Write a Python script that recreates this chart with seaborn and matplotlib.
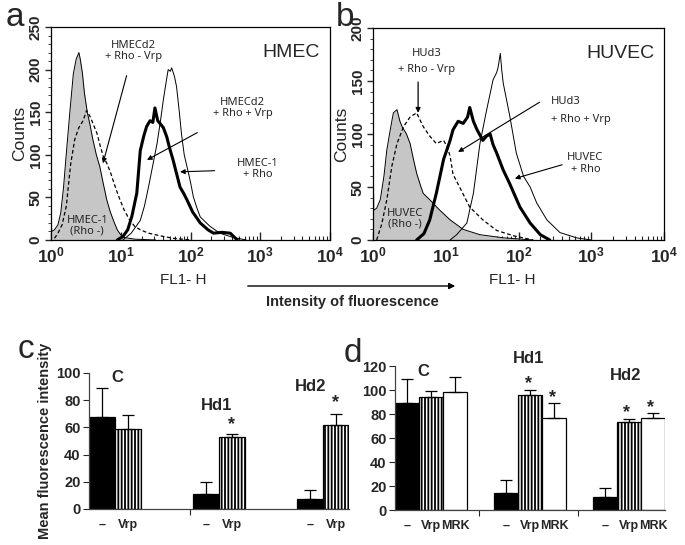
import numpy as np
import pandas as pd
import matplotlib
matplotlib.use('Agg')
import matplotlib.pyplot as plt
from matplotlib.ticker import MultipleLocator, LogLocator, NullFormatter
import seaborn as sns

sns.set_theme(style='white')
plt.rcParams['font.family'] = ['Liberation Sans', 'DejaVu Sans']
plt.rcParams['hatch.linewidth'] = 1.3

# ---- flow cytometry histograms (x in decades, log10 of FL1-H) ----
# panel a : HMEC
a_neg_x = [0.00, 0.01, 0.05, 0.10, 0.14, 0.18, 0.22, 0.27, 0.32, 0.36, 0.40, 0.42, 0.45, 0.48, 0.52,
           0.56, 0.60, 0.65, 0.70, 0.75, 0.80, 0.85, 0.90, 0.95, 1.00, 1.05, 1.20, 1.50]
a_neg_y = [35, 10, 12, 18, 32, 62, 102, 150, 195, 212, 220, 212, 196, 172, 150,
           135, 118, 100, 86, 66, 47, 33, 22, 12, 6, 3, 1, 0]
a_vrpneg_x = [0.05, 0.10, 0.16, 0.22, 0.28, 0.34, 0.40, 0.46, 0.51, 0.56, 0.61, 0.66, 0.70, 0.75,
              0.80, 0.85, 0.89, 0.94, 0.99, 1.05, 1.13, 1.20, 1.28, 1.40, 1.56, 1.75, 2.00]
a_vrpneg_y = [2, 8, 18, 40, 88, 118, 132, 140, 152, 145, 135, 125, 112, 98,
              90, 80, 70, 58, 47, 35, 23, 16, 12, 8, 5, 2, 0]
a_vrppos_x = [0.95, 1.03, 1.10, 1.16, 1.23, 1.28, 1.33, 1.37, 1.42, 1.46, 1.49, 1.53, 1.56, 1.61,
              1.66, 1.70, 1.75, 1.80, 1.85, 1.90, 1.95, 2.03, 2.14, 2.25, 2.33, 2.45, 2.57, 2.67]
a_vrppos_y = [0, 4, 12, 28, 55, 105, 122, 133, 140, 138, 155, 140, 137, 132,
              121, 108, 94, 78, 62, 55, 47, 33, 20, 12, 8, 9, 8, 0]
a_rho_x = [1.03, 1.15, 1.28, 1.34, 1.40, 1.46, 1.52, 1.57, 1.61, 1.65, 1.68, 1.71, 1.73, 1.77,
           1.80, 1.84, 1.87, 1.91, 1.95, 2.00, 2.04, 2.09, 2.14, 2.28, 2.42, 2.61, 2.80]
a_rho_y = [0, 8, 23, 40, 63, 88, 113, 140, 164, 185, 200, 198, 202, 192,
           180, 150, 125, 100, 86, 68, 51, 38, 27, 16, 8, 3, 0]

# panel b : HUVEC
b_neg_x = [0.00, 0.01, 0.05, 0.10, 0.15, 0.19, 0.24, 0.28, 0.33, 0.37, 0.40, 0.46, 0.51, 0.55,
           0.60, 0.65, 0.69, 0.78, 0.85, 0.92, 1.06, 1.24, 1.47, 1.80, 2.20]
b_neg_y = [105, 28, 30, 38, 60, 85, 105, 120, 123, 112, 107, 100, 91, 78,
           63, 52, 44, 38, 33, 28, 19, 10, 5, 2, 0]
b_vrpneg_x = [0.05, 0.12, 0.19, 0.26, 0.33, 0.42, 0.51, 0.60, 0.69, 0.78, 0.87, 0.97, 1.02,
              1.06, 1.10, 1.19, 1.33, 1.51, 1.70, 1.93, 2.20]
b_vrpneg_y = [0, 15, 38, 70, 91, 107, 116, 120, 107, 98, 91, 94, 88,
              79, 62, 50, 31, 19, 9, 4, 0]
b_vrppos_x = [0.60, 0.70, 0.78, 0.87, 0.97, 1.06, 1.10, 1.17, 1.24, 1.30, 1.33, 1.38, 1.43,
              1.51, 1.56, 1.61, 1.65, 1.70, 1.79, 1.88, 1.95, 2.02, 2.16, 2.30, 2.43]
b_vrppos_y = [0, 6, 19, 44, 76, 94, 104, 112, 110, 116, 125, 112, 104,
              94, 98, 100, 90, 82, 66, 53, 42, 31, 16, 5, 0]
b_rho_x = [1.06, 1.15, 1.29, 1.38, 1.47, 1.56, 1.65, 1.70, 1.72, 1.75, 1.77, 1.79, 1.88,
           1.97, 2.07, 2.16, 2.25, 2.39, 2.57, 2.80, 3.00]
b_rho_y = [0, 5, 16, 44, 91, 122, 151, 158, 163, 176, 160, 148, 117,
           82, 60, 50, 35, 19, 7, 2, 0]

# ---- mean fluorescence bars ----
c_groups = ['C', 'C', 'Hd1', 'Hd1', 'Hd2', 'Hd2']
c_treat = ['-', 'Vrp', '-', 'Vrp', '-', 'Vrp']
c_mean = [68, 59, 11, 53, 7, 62]
c_err = [21, 10, 9, 2, 7, 8]

d_groups = ['C', 'C', 'C', 'Hd1', 'Hd1', 'Hd1', 'Hd2', 'Hd2', 'Hd2']
d_treat = ['-', 'Vrp', 'MRK', '-', 'Vrp', 'MRK', '-', 'Vrp', 'MRK']
d_mean = [89, 94, 98, 14, 96, 77, 11, 73, 77]
d_err = [20, 5, 13, 11, 4, 12, 7, 3, 4]

W, H = 685, 545
fig = plt.figure(figsize=(W / 100, H / 100), dpi=100)


def rect(l, r, t, b):
    return [l / W, 1 - b / H, (r - l) / W, (b - t) / H]


GRAY = '#c6c6c6'
annot_font = dict(family=['Noto Sans', 'DejaVu Sans'], fontsize=8)


def histo(ax, neg, vneg, vpos, rho, ymax, xlab_pos):
    nx, ny = 10 ** np.array(neg[0]), np.array(neg[1])
    ax.fill_between(nx, ny, color=GRAY, lw=0)
    sns.lineplot(x=nx, y=ny, ax=ax, color='black', lw=0.7, estimator=None, sort=False)
    sns.lineplot(x=10 ** np.array(vneg[0]), y=vneg[1], ax=ax, color='black', lw=0.9,
                 estimator=None, sort=False, dashes=False, linestyle=(0, (3, 2)))
    sns.lineplot(x=10 ** np.array(vpos[0]), y=vpos[1], ax=ax, color='black', lw=2.2,
                 estimator=None, sort=False)
    sns.lineplot(x=10 ** np.array(rho[0]), y=rho[1], ax=ax, color='black', lw=0.7,
                 estimator=None, sort=False)
    ax.set_xscale('log')
    ax.set_xlim(1, 1e4)
    ax.set_ylim(0, ymax)
    ax.xaxis.set_major_locator(LogLocator(base=10, numticks=10))
    ax.xaxis.set_minor_locator(LogLocator(base=10, subs=np.arange(2, 10), numticks=10))
    ax.xaxis.set_minor_formatter(NullFormatter())
    ax.yaxis.set_major_locator(MultipleLocator(50))
    ax.yaxis.set_minor_locator(MultipleLocator(10))
    ax.tick_params(axis='x', which='both', direction='in', bottom=True, top=False,
                   labelsize=12.5, pad=4)
    ax.tick_params(axis='x', which='major', length=6, width=1)
    ax.tick_params(axis='x', which='minor', length=3, width=0.8)
    ax.tick_params(axis='y', which='both', direction='out', left=True, labelsize=11,
                   labelrotation=90, pad=2)
    ax.tick_params(axis='y', which='major', length=4, width=1)
    ax.tick_params(axis='y', which='minor', length=2, width=0.6)
    for lab in ax.get_xticklabels() + ax.get_yticklabels():
        lab.set_fontweight('bold')
    for lab in ax.get_yticklabels():
        lab.set_va('center')
    for s in ax.spines.values():
        s.set_color('black')
        s.set_linewidth(0.9)
    ax.set_xlabel('FL1- H', fontsize=11, labelpad=1)
    ax.xaxis.set_label_coords(xlab_pos, -0.155)
    ax.set_ylabel('Counts', fontsize=12.5, labelpad=1)


# panel a
ax_a = fig.add_axes(rect(51, 330, 27, 240))
histo(ax_a, (a_neg_x, a_neg_y), (a_vrpneg_x, a_vrpneg_y), (a_vrppos_x, a_vrppos_y),
      (a_rho_x, a_rho_y), 250, 0.475)
ax_a.text(0.86, 0.88, 'HMEC', transform=ax_a.transAxes, ha='center', va='center', fontsize=14)
ax_a.annotate('HMECd2\n+ Rho - Vrp', xy=(10 ** 0.745, 90), xytext=(10 ** 1.18, 222),
              ha='center', va='center', linespacing=0.95,
              arrowprops=dict(arrowstyle='-|>', color='black', lw=0.8, shrinkA=8, shrinkB=0,
                              mutation_scale=7), **annot_font)
ax_a.annotate('HMECd2\n+ Rho + Vrp', xy=(10 ** 1.376, 94), xytext=(10 ** 2.75, 155),
              ha='center', va='center', linespacing=0.95,
              arrowprops=dict(arrowstyle='-|>', color='black', lw=0.8, shrinkA=16, shrinkB=0,
                              mutation_scale=7), **annot_font)
ax_a.annotate('HMEC-1\n+ Rho', xy=(10 ** 1.85, 80), xytext=(10 ** 2.97, 83),
              ha='center', va='center', linespacing=0.95,
              arrowprops=dict(arrowstyle='-|>', color='black', lw=0.8, shrinkA=14, shrinkB=0,
                              mutation_scale=7), **annot_font)
ax_a.text(10 ** 0.52, 17, 'HMEC-1\n(Rho -)', ha='center', va='center', linespacing=0.95,
          **annot_font)

# panel b
ax_b = fig.add_axes(rect(373, 664, 28, 240))
histo(ax_b, (b_neg_x, b_neg_y), (b_vrpneg_x, b_vrpneg_y), (b_vrppos_x, b_vrppos_y),
      (b_rho_x, b_rho_y), 200, 0.478)
ax_b.text(0.85, 0.88, 'HUVEC', transform=ax_b.transAxes, ha='center', va='center', fontsize=14)
ax_b.text(10 ** 0.74, 168, 'HUd3\n\n+ Rho - Vrp', ha='center', va='center', linespacing=0.62,
          **annot_font)
ax_b.annotate('', xy=(10 ** 0.62, 120), xytext=(10 ** 0.62, 149),
              arrowprops=dict(arrowstyle='-|>', color='black', lw=0.9, shrinkA=0, shrinkB=0,
                              mutation_scale=7))
ax_b.text(10 ** 2.45, 122, 'HUd3\n\n+ Rho + Vrp', ha='left', va='center', linespacing=0.75,
          **annot_font)
ax_b.annotate('', xy=(10 ** 1.17, 83), xytext=(10 ** 2.29, 130),
              arrowprops=dict(arrowstyle='-|>', color='black', lw=0.8, shrinkA=0, shrinkB=0,
                              mutation_scale=7))
ax_b.text(10 ** 2.92, 72, 'HUVEC\n+ Rho', ha='center', va='center', linespacing=1.1,
          **annot_font)
ax_b.annotate('', xy=(10 ** 1.95, 58), xytext=(10 ** 2.6, 71),
              arrowprops=dict(arrowstyle='-|>', color='black', lw=0.8, shrinkA=0, shrinkB=0,
                              mutation_scale=7))
ax_b.text(10 ** 0.44, 20, 'HUVEC\n(Rho -)', ha='center', va='center', linespacing=1.0,
          **annot_font)

# shared x arrow
fig.add_artist(matplotlib.patches.FancyArrowPatch((245 / W, 1 - 286 / H), (458 / W, 1 - 286 / H),
               transform=fig.transFigure, arrowstyle='-|>', mutation_scale=9, color='black', lw=1))
fig.text(352 / W, 1 - 302 / H, 'Intensity of fluorescence', ha='center', va='center',
         fontsize=10.5, fontweight='bold')


def bars(ax, groups, treat, mean, err, width, xlim, ylim, ystep, minor_ticks):
    df = pd.DataFrame({'group': groups, 'treat': treat, 'value': mean})
    sns.barplot(data=df, x='group', y='value', hue='treat', width=width, dodge=True,
                errorbar=None, legend=False, palette=['black'] * df['treat'].nunique(),
                saturation=1, ax=ax)
    patches = sorted(ax.patches, key=lambda p: p.get_x())
    centers = []
    for p, t in zip(patches, treat):
        p.set_edgecolor('black')
        p.set_linewidth(0.9)
        if t == '-':
            p.set_facecolor('black')
        elif t == 'Vrp':
            p.set_facecolor('white')
            p.set_hatch('|||||')
        else:
            p.set_facecolor('white')
        centers.append(p.get_x() + p.get_width() / 2)
    ax.errorbar(centers, mean, yerr=[np.zeros(len(err)), err], fmt='none', ecolor='black',
                elinewidth=0.9, capsize=4, capthick=0.9)
    ax.set_xlim(*xlim)
    ax.set_ylim(*ylim)
    ax.yaxis.set_major_locator(MultipleLocator(ystep))
    ax.set_xticks(centers)
    ax.set_xticklabels(['\u2013' if t == '-' else t for t in treat])
    ax.set_xticks(minor_ticks, minor=True)
    ax.tick_params(axis='x', which='major', length=0, pad=7, labelsize=9)
    ax.tick_params(axis='x', which='minor', length=4, width=0.8, bottom=True, direction='out')
    ax.tick_params(axis='y', which='major', length=4, width=0.8, left=True, direction='out',
                   labelsize=10.5, pad=2)
    for lab in ax.get_xticklabels() + ax.get_yticklabels():
        lab.set_fontweight('bold')
    sns.despine(ax=ax)
    for s in ['left', 'bottom']:
        ax.spines[s].set_color('#444444')
        ax.spines[s].set_linewidth(0.9)
    ax.set_xlabel('')
    ax.set_ylabel('')
    return centers


# panel c
ax_c = fig.add_axes(rect(89, 349, 373, 509))
bars(ax_c, c_groups, c_treat, c_mean, c_err, 0.5, (-0.25, 2.25), (0, 100), 20, [0.72])
ax_c.set_ylabel('Mean fluorescence intensity', fontsize=10.5, fontweight='bold', labelpad=3)
c_lab = [('C', 0.02, 97), ('Hd1', 0.98, 76), ('Hd2', 1.88, 90)]
for t, x, y in c_lab:
    ax_c.text(x, y, t, ha='center', va='center', fontsize=12, fontweight='bold', clip_on=False)
for x, y in [(1.125, 62), (2.125, 78)]:
    ax_c.text(x, y, '*', ha='center', va='center', fontsize=13, fontweight='bold', clip_on=False)

# panel d
ax_d = fig.add_axes(rect(395, 665, 366, 510))
bars(ax_d, d_groups, d_treat, d_mean, d_err, 0.73, (-0.365, 2.365), (0, 120), 20, [0.48, 1.49])
d_lab = [('C', -0.08, 115), ('Hd1', 0.985, 126), ('Hd2', 1.97, 112)]
for t, x, y in d_lab:
    ax_d.text(x, y, t, ha='center', va='center', fontsize=12, fontweight='bold', clip_on=False)
for x, y in [(0.985, 105), (1.23, 94), (1.975, 81), (2.22, 85)]:
    ax_d.text(x, y, '*', ha='center', va='center', fontsize=13, fontweight='bold', clip_on=False)

# panel letters
for letter, x, y in [('a', 15, 26), ('b', 345, 26), ('c', 26, 358), ('d', 353, 362)]:
    fig.text(x / W, 1 - y / H, letter, ha='center', va='baseline', fontsize=24)

fig.savefig('out.png', dpi=100)
